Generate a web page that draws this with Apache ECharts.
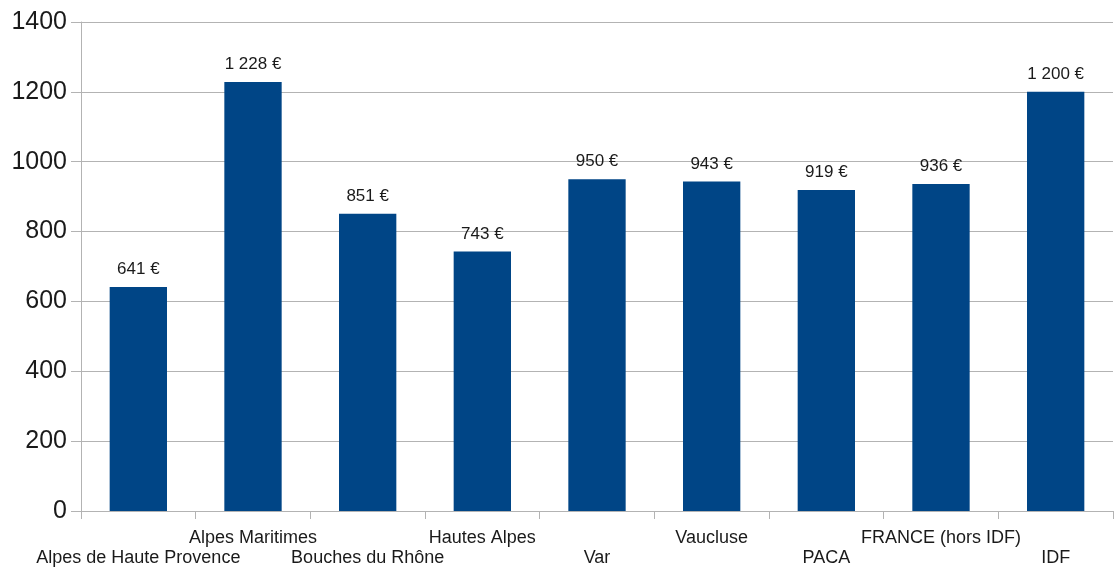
<!DOCTYPE html>
<html>
<head>
<meta charset="utf-8">
<script src="https://cdn.jsdelivr.net/npm/echarts@6/dist/echarts.min.js"></script>
<style>
  html, body { margin: 0; padding: 0; background: #fff; }
  #chart { width: 1114px; height: 568px; }
</style>
</head>
<body>
<div id="chart"></div>
<script>
const categories = ["Alpes de Haute Provence", "Alpes Maritimes", "Bouches du Rhône", "Hautes Alpes", "Var", "Vaucluse", "PACA", "FRANCE (hors IDF)", "IDF"]
const values = [641, 1228, 851, 743, 950, 943, 919, 936, 1200]
const yTicks = [0, 200, 400, 600, 800, 1000, 1200, 1400]

// format like "1 228 €"
function euro(v) {
  return String(v).replace(/\B(?=(\d{3})+(?!\d))/g, " ") + " €"
}

const chart = echarts.init(document.getElementById("chart"))
chart.setOption({
  animation: false,
  grid: { left: 81, right: 1, top: 22, bottom: 51 },
  xAxis: {
    type: "category",
    data: categories,
    axisLine: { lineStyle: { color: "#b3b3b3", width: 1 } },
    axisTick: { show: true, length: 8, lineStyle: { color: "#b3b3b3" } },
    axisLabel: {
      interval: 0,
      margin: 17,
      fontFamily: "Liberation Sans",
      fontSize: 18,
      lineHeight: 20,
      color: "#1a1a1a",
      formatter: (v, i) => (i % 2 === 0 ? "\n" + v : v),
    },
  },
  yAxis: {
    type: "value",
    min: yTicks[0],
    max: yTicks[yTicks.length - 1],
    interval: 200,
    axisLine: { show: true, lineStyle: { color: "#b3b3b3" } },
    axisTick: { show: true, length: 10, lineStyle: { color: "#b3b3b3" } },
    splitLine: { lineStyle: { color: "#b3b3b3" } },
    axisLabel: {
      margin: 14,
      fontFamily: "Liberation Sans",
      fontSize: 25,
      color: "#1a1a1a",
      formatter: (v) => String(v),
    },
  },
  series: [
    {
      type: "bar",
      data: values,
      barWidth: "50%",
      itemStyle: { color: "#004586" },
      label: {
        show: true,
        position: "top",
        distance: 9,
        fontFamily: "Liberation Sans",
        fontSize: 17,
        color: "#1a1a1a",
        formatter: (p) => euro(p.value),
      },
    },
  ],
})
</script>
</body>
</html>
